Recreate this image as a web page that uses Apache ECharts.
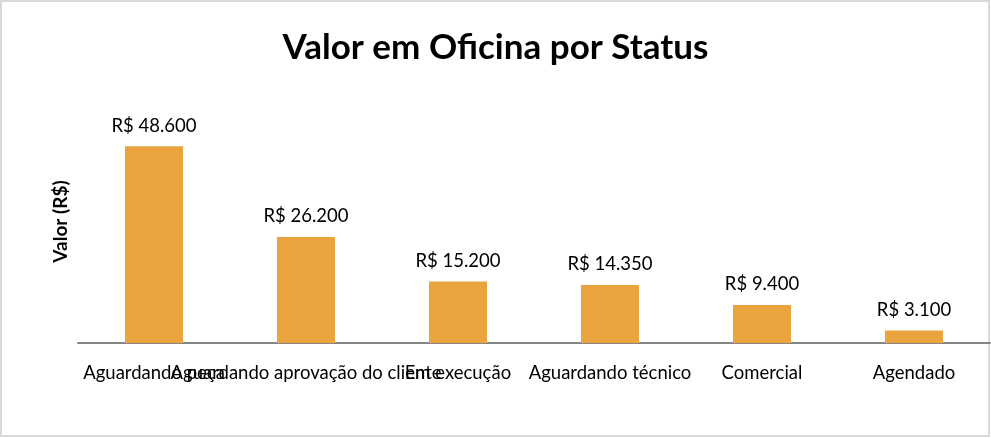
<!DOCTYPE html>
<html><head><meta charset="utf-8">
<script src="https://cdn.jsdelivr.net/npm/echarts@6/dist/echarts.min.js"></script>
<style>html,body{margin:0;padding:0;background:#fff}#c{width:991px;height:438px}</style>
</head><body><div id="c"></div>
<script>
const categories = ["Aguardando peça", "Aguardando aprovação do cliente", "Em execução", "Aguardando técnico", "Comercial", "Agendado"];
const values = [48600, 26200, 15200, 14350, 9400, 3100];
const titleText = "Valor em Oficina por Status";
const yName = "Valor (R$)";
const fmt = v => "R$ " + v.toString().replace(/\B(?=(\d{3})+(?!\d))/g, ".");
const FONT = "Lato";
const chart = echarts.init(document.getElementById('c'), null, {renderer: 'canvas'});
chart.setOption({
  animation: false,
  backgroundColor: '#fff',
  title: {text: titleText, left: 'center', top: 25, textStyle: {fontFamily: FONT, fontSize: 35, fontWeight: 'bold', color: '#000'}},
  graphic: [{type: 'rect', shape: {x: 1, y: 1, width: 988, height: 435}, style: {fill: 'none', stroke: '#d9d9d9', lineWidth: 2}, silent: true}],
  grid: {left: 78, right: 1, top: 100, bottom: 95, containLabel: false},
  xAxis: {type: 'category', data: categories,
    axisLine: {lineStyle: {color: '#868686', width: 2}}, axisTick: {show: false},
    axisLabel: {interval: 0, fontFamily: FONT, fontSize: 18.5, color: '#000', margin: 21, hideOverlap: false}},
  yAxis: {type: 'value', min: 0, max: 60000, name: yName, nameLocation: 'middle', nameGap: 8, nameRotate: 90,
    nameTextStyle: {fontFamily: FONT, fontSize: 19, fontWeight: 'bold', color: '#000'},
    axisLine: {show: false}, axisTick: {show: false}, axisLabel: {show: false}, splitLine: {show: false}},
  series: [{type: 'bar', data: values, barWidth: 58, itemStyle: {color: '#E9A43F'},
    label: {show: true, position: 'top', distance: 11, formatter: p => fmt(p.value), fontFamily: FONT, fontSize: 18.5, color: '#000'}}]
});
</script></body></html>
